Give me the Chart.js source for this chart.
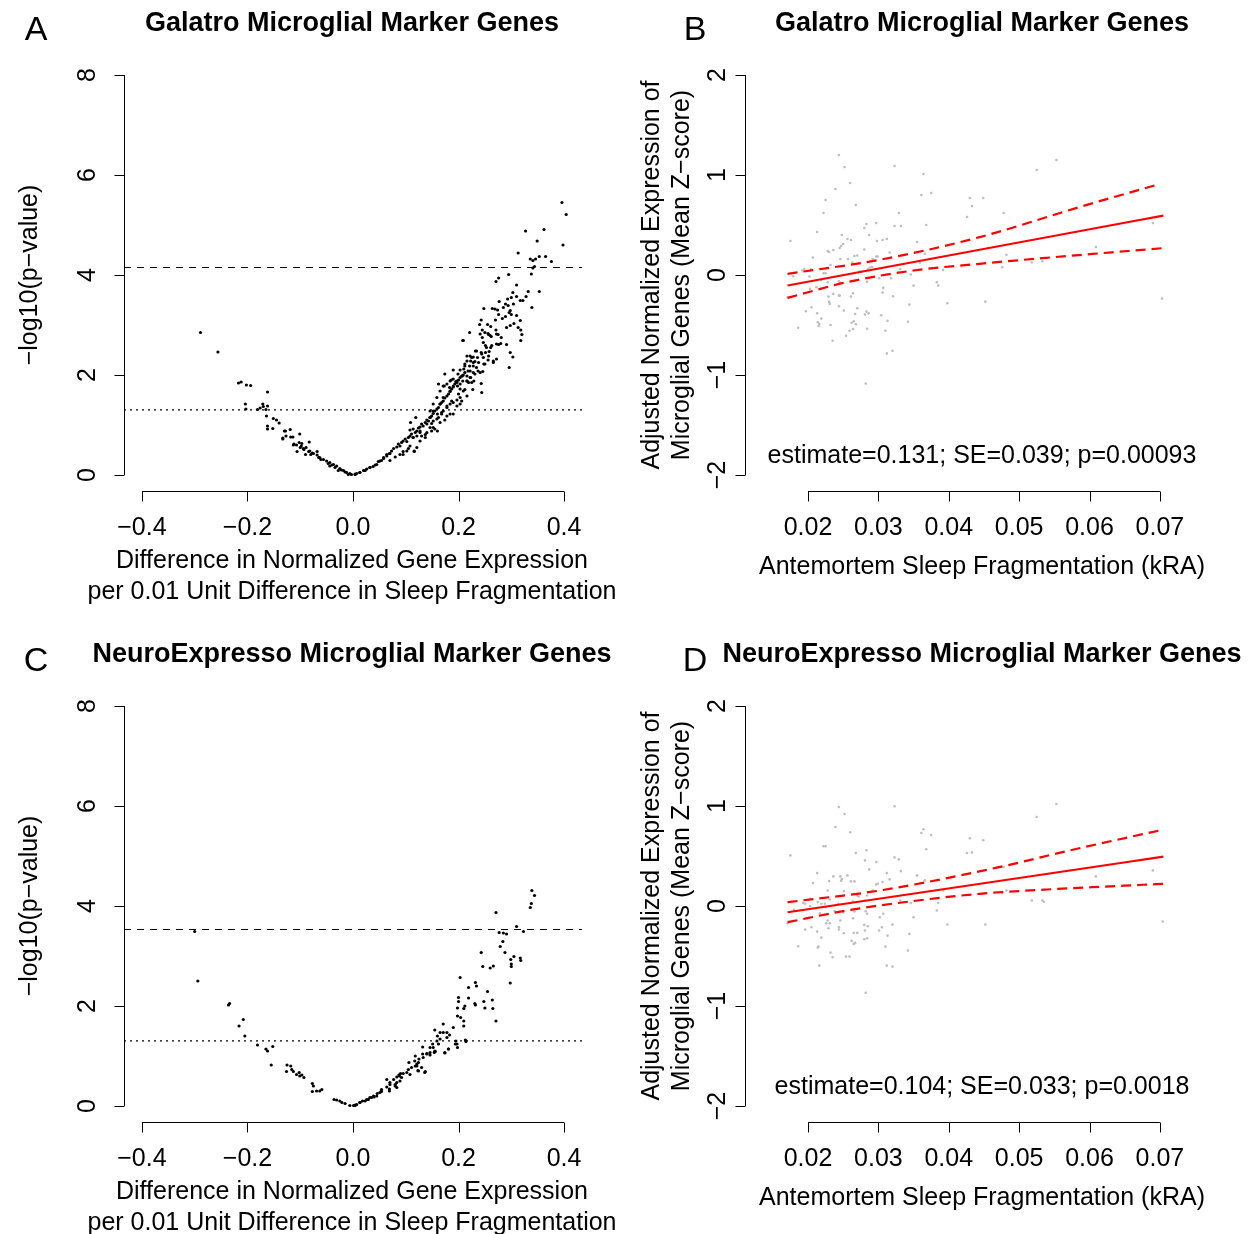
<!DOCTYPE html>
<html>
<head>
<meta charset="utf-8">
<script src="https://cdn.jsdelivr.net/npm/chart.js@4.4.0/dist/chart.umd.min.js"></script>
<style>
  body { margin: 0; background: #fff; }
  #wrap { position: relative; width: 1255px; height: 1234px; font-family: "Liberation Sans", Arial, sans-serif; color: #000; }
  #wrap canvas { position: absolute; left: 0; top: 0; }
  .t { position: absolute; transform: translate(-50%, -50%); white-space: nowrap; line-height: 1; }
  .v { position: absolute; transform: translate(-50%, -50%) rotate(-90deg); white-space: nowrap; line-height: 1; }
  .main { font-weight: bold; font-size: 27px; }
  .lab { font-size: 25px; }
  .letter { font-size: 34px; }
</style>
</head>
<body>
<div id="wrap">
  <canvas id="chartA" width="1255" height="1234"></canvas>
  <canvas id="chartB" width="1255" height="1234"></canvas>
  <canvas id="chartC" width="1255" height="1234"></canvas>
  <canvas id="chartD" width="1255" height="1234"></canvas>

  <div class="t letter" style="left:36px;top:28px">A</div>
  <div class="t letter" style="left:695px;top:28px">B</div>
  <div class="t letter" style="left:36px;top:659px">C</div>
  <div class="t letter" style="left:695px;top:659px">D</div>

  <div class="t main" style="left:352px;top:22px">Galatro Microglial Marker Genes</div>
  <div class="t main" style="left:982px;top:22px">Galatro Microglial Marker Genes</div>
  <div class="t main" style="left:352px;top:653px">NeuroExpresso Microglial Marker Genes</div>
  <div class="t main" style="left:982px;top:653px">NeuroExpresso Microglial Marker Genes</div>

  <div class="v lab" style="left:28px;top:275px">&minus;log10(p&minus;value)</div>
  <div class="v lab" style="left:28px;top:906px">&minus;log10(p&minus;value)</div>
  <div class="v lab" style="left:650px;top:275px">Adjusted Normalized Expression of</div>
  <div class="v lab" style="left:680px;top:275px">Microglial Genes (Mean Z&minus;score)</div>
  <div class="v lab" style="left:650px;top:906px">Adjusted Normalized Expression of</div>
  <div class="v lab" style="left:680px;top:906px">Microglial Genes (Mean Z&minus;score)</div>

  <div class="t lab" style="left:352px;top:559px">Difference in Normalized Gene Expression</div>
  <div class="t lab" style="left:352px;top:590px">per 0.01 Unit Difference in Sleep Fragmentation</div>
  <div class="t lab" style="left:352px;top:1190px">Difference in Normalized Gene Expression</div>
  <div class="t lab" style="left:352px;top:1221px">per 0.01 Unit Difference in Sleep Fragmentation</div>
  <div class="t lab" style="left:982px;top:565px">Antemortem Sleep Fragmentation (kRA)</div>
  <div class="t lab" style="left:982px;top:1196px">Antemortem Sleep Fragmentation (kRA)</div>

  <div class="t lab" id="noteB" style="left:982px;top:454px"></div>
  <div class="t lab" id="noteD" style="left:982px;top:1085px"></div>
</div>

<script>
// ---- volcano data: [difference per 0.01 kRA, -log10(p)] ----
var galatroVolcano = [
  [-0.289,2.85],[-0.256,2.46],[-0.217,1.84],[-0.212,1.86],[-0.202,1.80],[-0.194,1.79],[-0.162,1.66],[-0.204,1.42],
  [-0.203,1.32],[-0.171,1.42],[-0.170,1.37],[-0.162,1.38],[-0.176,1.34],[-0.181,1.31],[-0.165,1.31],[-0.164,1.18],
  [-0.151,1.13],[-0.145,1.10],[-0.140,1.04],[-0.162,0.98],[-0.162,0.92],[-0.152,0.93],[-0.128,0.88],[-0.119,0.91],
  [-0.101,0.82],[-0.118,0.76],[-0.133,0.72],[-0.113,0.60],[-0.107,0.60],[-0.097,0.63],[-0.083,0.66],[-0.100,0.55],
  [-0.093,0.51],[-0.106,0.47],[-0.090,0.41],[-0.082,0.48],[-0.077,0.44],[-0.068,0.47],[-0.068,0.40],[-0.063,0.35],
  [-0.056,0.31],[-0.050,0.28],[-0.044,0.25],[-0.037,0.21],[-0.031,0.18],[-0.025,0.13],[-0.018,0.09],[-0.012,0.05],
  [-0.003,0.01],[-0.133,0.74],[-0.130,0.88],[-0.127,0.78],[-0.114,0.76],[-0.102,0.65],[-0.112,0.62],[-0.098,0.58],
  [-0.094,0.53],[-0.089,0.55],[-0.084,0.47],[-0.080,0.41],[-0.075,0.43],[-0.065,0.35],[-0.061,0.31],[-0.047,0.23],
  [-0.044,0.18],[-0.040,0.20],[-0.034,0.15],[-0.028,0.09],[-0.022,0.10],[-0.015,0.06],[-0.009,0.01],[-0.006,0.03],
  [0.004,0.01],[0.007,0.03],[0.013,0.05],[0.020,0.09],[0.026,0.12],[0.032,0.15],[0.038,0.17],[0.045,0.21],
  [0.051,0.28],[0.058,0.35],[0.064,0.41],[0.070,0.43],
  [0.004,0.02],[0.013,0.05],[0.023,0.09],[0.032,0.15],[0.042,0.20],[0.048,0.27],[0.054,0.29],[0.058,0.33],
  [0.064,0.38],[0.069,0.43],[0.073,0.48],[0.077,0.53],[0.083,0.56],[0.086,0.62],[0.089,0.58],[0.092,0.65],
  [0.095,0.68],[0.099,0.72],[0.102,0.67],[0.105,0.75],[0.108,0.78],[0.111,0.82],[0.114,0.75],[0.118,0.85],
  [0.121,0.88],[0.124,0.94],[0.127,0.96],[0.130,1.02],[0.133,0.98],[0.137,1.05],[0.140,1.10],[0.143,1.08],
  [0.146,1.15],[0.149,1.18],[0.152,1.23],[0.155,1.28],[0.159,1.32],[0.162,1.35],[0.165,1.42],[0.168,1.45],
  [0.171,1.48],[0.174,1.54],[0.178,1.58],[0.181,1.62],[0.184,1.67],[0.187,1.72],[0.190,1.76],[0.193,1.82],
  [0.197,1.85],[0.200,1.90],[0.203,1.95],[0.209,2.00],[0.212,2.05],
  [0.070,0.29],[0.080,0.36],[0.089,0.41],[0.095,0.47],[0.105,0.53],[0.108,0.90],[0.114,0.92],[0.121,0.78],
  [0.127,0.85],[0.130,0.78],[0.137,0.75],[0.140,0.85],[0.146,0.95],[0.149,1.03],[0.152,1.08],[0.155,0.92],
  [0.160,0.88],[0.162,1.15],[0.168,1.22],[0.171,1.28],[0.178,1.35],[0.184,1.42],[0.190,1.45],[0.197,1.50],
  [0.203,1.55],[0.203,1.42],[0.184,1.22],[0.174,1.10],[0.165,1.05],[0.160,1.22],[0.146,1.28],[0.152,1.42],
  [0.159,1.55],[0.165,1.68],[0.171,1.78],[0.178,1.82],[0.184,1.88],[0.190,1.92],[0.203,1.82],[0.209,1.68],
  [0.216,1.88],[0.222,1.95],[0.231,2.02],[0.116,0.48],[0.109,1.05],[0.119,1.15],
  [0.221,2.85],[0.241,2.82],[0.250,2.85],[0.260,2.79],[0.272,2.82],[0.209,2.69],[0.247,2.65],[0.253,2.55],
  [0.263,2.59],[0.272,2.62],[0.234,2.48],[0.244,2.42],[0.257,2.38],[0.225,2.35],[0.216,2.28],[0.228,2.25],
  [0.250,2.22],[0.266,2.25],[0.234,2.15],[0.222,2.08],[0.212,2.18],[0.241,2.05],[0.206,1.98],[0.197,1.88],
  [0.216,1.88],[0.225,1.85],[0.244,1.65],[0.174,2.02],[0.190,1.78],[0.203,1.72],[0.184,1.68],[0.200,1.62],
  [0.216,1.58],[0.171,1.55],[0.187,1.48],[0.206,1.48],[0.165,1.42],[0.178,1.38],[0.197,1.38],[0.152,1.28],
  [0.168,1.25],[0.190,1.22],[0.146,1.15],[0.159,1.12],[0.178,1.18],[0.140,1.02],[0.152,0.95],[0.127,0.88],
  [0.137,0.81],[0.149,0.88],[0.114,0.75],[0.127,0.68],[0.108,0.58],[0.121,0.55],[0.102,0.48],[0.095,0.41],
  [0.116,0.47],
  [0.396,5.45],[0.404,5.21],[0.327,4.88],[0.362,4.91],[0.349,4.68],[0.398,4.60],[0.313,4.44],[0.336,4.32],
  [0.341,4.29],[0.346,4.32],[0.353,4.37],[0.365,4.37],[0.376,4.27],[0.344,4.17],[0.341,4.14],[0.295,4.01],
  [0.276,3.94],[0.271,3.87],[0.338,4.02],[0.310,3.80],[0.332,3.67],[0.353,3.67],[0.303,3.65],[0.310,3.57],
  [0.328,3.57],[0.300,3.55],[0.293,3.52],[0.322,3.49],[0.317,3.49],[0.277,3.47],[0.304,3.42],[0.289,3.42],
  [0.285,3.35],[0.294,3.39],[0.339,3.35],[0.248,3.33],[0.264,3.33],[0.269,3.32],[0.274,3.30],[0.298,3.29],
  [0.296,3.25],[0.300,3.21],[0.310,3.19],[0.289,3.17],[0.276,3.21],[0.283,3.13],[0.270,3.10],[0.243,3.10],
  [0.240,3.01],[0.255,3.01],[0.317,3.09],[0.305,3.03],[0.261,2.97],[0.271,2.90],[0.291,2.95],[0.313,2.95],
  [0.318,2.90],[0.298,2.99],[0.245,2.90],[0.256,2.83],[0.245,2.75],[0.257,2.81],[0.262,2.77],[0.275,2.81],
  [0.281,2.75],[0.320,2.81],[0.208,2.69],[0.318,2.69],[0.276,2.61],[0.280,2.63],[0.291,2.61],[0.251,2.59],
  [0.261,2.55],[0.298,2.45],[0.303,2.36],[0.232,2.48],[0.243,2.45],[0.251,2.45],[0.258,2.47],[0.216,2.38],
  [0.222,2.38],[0.228,2.36],[0.236,2.35],[0.247,2.35],[0.256,2.30],[0.266,2.28],[0.272,2.32],[0.223,2.28],
  [0.231,2.27],[0.238,2.25],[0.212,2.22],[0.221,2.18],[0.228,2.18],[0.248,2.22],[0.190,2.10],[0.203,2.10],
  [0.210,2.12],[0.218,2.08],[0.228,2.05],[0.237,2.08],[0.246,2.07],[0.296,2.15],[0.199,2.02],[0.207,1.98],
  [0.216,1.98],[0.223,1.95],[0.186,1.90],[0.195,1.87],[0.208,1.88],[0.219,1.85],[0.229,1.88],[0.243,1.83],
  [0.162,1.82],[0.173,1.78],[0.183,1.75],[0.198,1.78],[0.212,1.71],[0.227,1.71]
];

var neuroVolcano = [
  [-0.300,3.49],[-0.294,2.50],[-0.236,2.02],[-0.234,2.05],[-0.208,1.73],[-0.216,1.60],[-0.205,1.40],[-0.181,1.22],
  [-0.165,1.14],[-0.162,1.10],[-0.152,1.19],[-0.155,0.82],[-0.125,0.82],[-0.118,0.80],[-0.126,0.69],[-0.116,0.73],
  [-0.113,0.69],[-0.107,0.63],[-0.102,0.67],[-0.097,0.62],[-0.093,0.57],[-0.101,0.60],[-0.077,0.45],[-0.075,0.40],
  [-0.077,0.29],[-0.069,0.30],[-0.063,0.30],[-0.059,0.33],[-0.036,0.13],[-0.031,0.12],[-0.025,0.10],[-0.021,0.07],
  [-0.015,0.05],[-0.006,0.01],[0.001,0.01],[0.007,0.03],
  [0.339,4.31],[0.344,4.21],[0.338,4.05],[0.336,3.97],[0.271,3.87],[0.310,3.59],[0.323,3.49],[0.277,3.47],
  [0.285,3.46],[0.291,3.44],[0.284,3.29],[0.279,3.19],[0.288,3.07],[0.243,3.07],[0.305,2.99],[0.299,2.93],
  [0.300,2.84],[0.300,2.79],[0.317,2.96],[0.318,2.91],[0.246,2.79],[0.260,2.76],[0.266,2.80],[0.203,2.57],
  [0.298,2.46],[0.232,2.47],[0.234,2.40],[0.219,2.37],[0.255,2.29],[0.200,2.17],[0.200,2.09],[0.219,2.16],
  [0.212,2.00],[0.210,1.95],[0.198,1.96],[0.198,1.80],[0.204,1.77],[0.210,1.70],[0.210,1.60],[0.231,2.05],
  [0.232,2.02],[0.248,2.09],[0.250,1.96],[0.264,2.12],[0.265,1.95],[0.271,1.70],[0.171,1.64],[0.190,1.57],
  [0.178,1.47],[0.171,1.47],[0.165,1.47],[0.160,1.40],[0.155,1.52],[0.183,1.42],[0.178,1.37],[0.195,1.30],
  [0.194,1.24],[0.213,1.32],[0.214,1.29],[0.198,1.17],[0.181,1.14],[0.174,1.06],[0.165,1.34],[0.159,1.30],
  [0.151,1.24],[0.146,1.17],[0.132,1.18],[0.132,1.04],[0.140,1.05],[0.146,1.02],[0.154,1.07],[0.156,1.09],
  [0.118,1.00],[0.125,0.94],[0.117,0.90],[0.106,0.87],[0.121,0.80],[0.123,0.71],[0.137,0.69],[0.090,0.65],
  [0.087,0.62],[0.083,0.58],[0.077,0.53],[0.064,0.53],[0.070,0.47],[0.080,0.43],[0.083,0.37],[0.069,0.34],
  [0.054,0.33],[0.054,0.29],[0.046,0.25],[0.039,0.20],[0.032,0.17],[0.026,0.13],[0.018,0.10],[0.013,0.07],
  [0.004,0.01],[0.004,0.02],[0.013,0.07],[0.023,0.10],[0.029,0.13],[0.035,0.17],[0.040,0.18],[0.045,0.20],
  [0.051,0.27],[0.054,0.31],[0.064,0.38],[0.070,0.43],[0.069,0.30],[0.080,0.40],[0.083,0.47],[0.089,0.50],
  [0.092,0.57],[0.088,0.60],[0.095,0.65],[0.102,0.67],[0.105,0.73],[0.111,0.77],[0.108,0.63],[0.118,0.80],
  [0.121,0.84],[0.124,0.87],[0.124,0.70],[0.130,0.77],[0.136,0.67],[0.133,0.97],[0.140,1.04],[0.146,1.07],
  [0.155,1.10],[0.152,1.17],[0.162,1.24],[0.174,1.07],[0.181,1.14],[0.197,1.24]
];

// -log10(0.05) and the Bonferroni cut-offs for each marker set
var nominalCut = 1.301;
var galatroBonf = 4.15;
var neuroBonf = 3.53;

// ---- per-subject scatter: [sleep fragmentation kRA, mean z-score] ----
var galatroSubjects = [
  [0.0244,1.20],[0.0252,1.08],[0.0323,1.09],[0.0364,1.01],[0.0553,1.15],[0.0525,1.05],[0.0260,0.92],[0.0239,0.86],
  [0.0361,0.80],[0.0375,0.82],[0.0225,0.75],[0.0268,0.70],[0.0222,0.62],[0.0329,0.62],[0.0430,0.77],[0.0449,0.77],
  [0.0433,0.69],[0.0426,0.58],[0.0478,0.62],[0.0283,0.51],[0.0297,0.52],[0.0280,0.47],[0.0323,0.49],[0.0332,0.49],
  [0.0368,0.50],[0.0213,0.43],[0.0287,0.40],[0.0248,0.40],[0.0256,0.36],[0.0261,0.35],[0.0298,0.34],[0.0306,0.35],
  [0.0312,0.36],[0.0175,0.34],[0.0250,0.31],[0.0247,0.29],[0.0245,0.27],[0.0355,0.33],[0.0236,0.25],[0.0230,0.23],
  [0.0228,0.24],[0.0280,0.255],[0.0316,0.225],[0.0270,0.195],[0.0266,0.19],[0.0207,0.175],[0.0246,0.16],[0.0257,0.16],
  [0.0297,0.185],[0.0299,0.185],[0.0292,0.16],[0.0263,0.125],[0.0232,0.10],[0.0291,0.08],[0.0195,0.06],[0.0192,0.045],
  [0.0204,0.058],[0.0179,-0.012],[0.0202,-0.015],[0.0222,0.018],[0.0225,0.018],[0.0219,-0.049],[0.0228,-0.072],[0.0244,-0.062],
  [0.0246,-0.079],[0.0273,0.035],[0.0276,0.035],[0.0285,0.06],[0.0288,0.075],[0.0331,0.06],[0.0346,0.005],[0.0318,-0.032],
  [0.0301,-0.032],[0.0359,0.122],[0.0366,0.212],[0.0392,0.051],[0.0482,0.202],[0.0476,0.078],[0.0518,0.125],[0.0533,0.138],
  [0.0609,0.28],[0.0690,0.52],[0.0703,-0.236],[0.0383,-0.072],[0.0385,-0.106],[0.0350,-0.106],[0.0307,-0.129],[0.0306,-0.176],
  [0.0284,-0.069],[0.0266,-0.062],[0.0203,-0.139],[0.0212,-0.122],[0.0236,-0.189],[0.0244,-0.206],[0.0245,-0.206],[0.0229,-0.216],
  [0.0264,-0.183],[0.0261,-0.216],[0.0321,-0.213],[0.0398,-0.283],[0.0452,-0.266],[0.0344,-0.296],[0.0230,-0.269],[0.0231,-0.289],
  [0.0244,-0.313],[0.0205,-0.323],[0.0197,-0.363],[0.0213,-0.383],[0.0251,-0.356],[0.0270,-0.333],[0.0283,-0.366],[0.0286,-0.383],
  [0.0267,-0.390],[0.0281,-0.396],[0.0304,-0.403],[0.0219,-0.436],[0.0214,-0.473],[0.0216,-0.490],[0.0215,-0.510],[0.0262,-0.477],
  [0.0265,-0.463],[0.0268,-0.493],[0.0232,-0.500],[0.0186,-0.527],[0.0264,-0.540],[0.0259,-0.557],[0.0284,-0.537],[0.0313,-0.457],
  [0.0342,-0.467],[0.0310,-0.557],[0.0254,-0.607],[0.0235,-0.657],[0.0312,-0.784],[0.0320,-0.757],[0.0282,-1.085],[0.0171,-0.223]
];

var neuroSubjects = [
  [0.0244,0.99],[0.0323,0.998],[0.0252,0.92],[0.0553,1.02],[0.0525,0.89],[0.0239,0.79],[0.0260,0.737],[0.0364,0.767],
  [0.0361,0.730],[0.0375,0.710],[0.0430,0.677],[0.0449,0.657],[0.0222,0.597],[0.0225,0.597],[0.0368,0.567],[0.0268,0.530],
  [0.0283,0.557],[0.0426,0.530],[0.0433,0.536],[0.0175,0.506],[0.0323,0.486],[0.0329,0.466],[0.0281,0.456],[0.0297,0.440],
  [0.0287,0.366],[0.0213,0.329],[0.0312,0.329],[0.0332,0.349],[0.0355,0.306],[0.0236,0.296],[0.0246,0.296],[0.0256,0.306],
  [0.0248,0.269],[0.0247,0.252],[0.0316,0.266],[0.0366,0.256],[0.0261,0.246],[0.0266,0.246],[0.0207,0.229],[0.0230,0.249],
  [0.0297,0.216],[0.0299,0.222],[0.0292,0.155],[0.0251,0.149],[0.0228,0.155],[0.0306,0.239],[0.0478,0.389],[0.0609,0.296],
  [0.0690,0.356],[0.0392,0.155],[0.0482,0.155],[0.0272,0.095],[0.0270,0.105],[0.0284,0.105],[0.0203,0.072],[0.0231,0.065],
  [0.0214,0.039],[0.0219,0.022],[0.0224,0.022],[0.0243,0.022],[0.0193,0.032],[0.0196,0.022],[0.0180,-0.038],[0.0203,-0.002],
  [0.0264,0.045],[0.0281,0.055],[0.0217,-0.072],[0.0238,-0.052],[0.0250,-0.062],[0.0266,-0.055],[0.0282,-0.052],[0.0284,-0.078],
  [0.0225,-0.012],[0.0383,-0.045],[0.0385,0.032],[0.0346,0.029],[0.0518,0.055],[0.0533,0.055],[0.0535,0.042],[0.0476,0.129],
  [0.0331,0.055],[0.0302,-0.112],[0.0307,-0.078],[0.0264,-0.122],[0.0350,-0.112],[0.0228,-0.145],[0.0231,-0.172],[0.0226,-0.172],
  [0.0246,-0.145],[0.0280,-0.189],[0.0285,-0.202],[0.0171,-0.172],[0.0704,-0.155],[0.0398,-0.185],[0.0452,-0.185],[0.0196,-0.235],
  [0.0205,-0.212],[0.0229,-0.222],[0.0244,-0.212],[0.0244,-0.235],[0.0251,-0.272],[0.0213,-0.256],[0.0270,-0.269],[0.0265,-0.269],
  [0.0281,-0.245],[0.0284,-0.322],[0.0280,-0.332],[0.0305,-0.212],[0.0301,-0.245],[0.0320,-0.185],[0.0344,-0.279],[0.0313,-0.296],
  [0.0219,-0.316],[0.0262,-0.349],[0.0267,-0.369],[0.0265,-0.379],[0.0215,-0.406],[0.0214,-0.416],[0.0186,-0.403],[0.0310,-0.406],
  [0.0232,-0.466],[0.0342,-0.446],[0.0235,-0.513],[0.0254,-0.506],[0.0259,-0.506],[0.0216,-0.596],[0.0312,-0.596],[0.0320,-0.606],
  [0.0282,-0.867]
];

// regression summaries (estimate is per 0.01 kRA)
var galatroFit = { intercept: -0.329, estimate: 0.131, se: "0.039", p: "0.00093" };
var neuroFit = { intercept: -0.240, estimate: 0.104, se: "0.033", p: "0.0018" };
var fitRangeX = [0.0171, 0.0705];

// 95% confidence band edges
var galatroUpperX = [0.0171, 0.0302, 0.0444, 0.0586, 0.0698];
var galatroUpperY = [0.012, 0.152, 0.379, 0.680, 0.907];
var galatroLowerX = [0.0171, 0.0255, 0.0350, 0.0444, 0.0539, 0.0705];
var galatroLowerY = [-0.229, -0.072, 0.045, 0.112, 0.172, 0.269];
var neuroUpperX = [0.0171, 0.0302, 0.0468, 0.0572, 0.0705];
var neuroUpperY = [0.038, 0.155, 0.383, 0.556, 0.764];
var neuroLowerX = [0.0171, 0.0255, 0.0350, 0.0444, 0.0539, 0.0705];
var neuroLowerY = [-0.162, -0.045, 0.050, 0.122, 0.165, 0.222];

// axis ticks
var volcanoXTicks = [-0.4, -0.2, 0.0, 0.2, 0.4];
var volcanoYTicks = [0, 2, 4, 6, 8];
var fragXTicks = [0.02, 0.03, 0.04, 0.05, 0.06, 0.07];
var zYTicks = [-2, -1, 0, 1, 2];

// plot regions (user coordinates incl. R's 4% padding)
var volcanoXLim = [-0.434, 0.434];
var volcanoYLim = [-0.32, 8.32];
var fragXLim = [0.01105, 0.0784];
var zYLim = [-2.16, 2.16];

function fmt(v, digits) {
  var s = Math.abs(v).toFixed(digits);
  return (v < 0 ? "\u2212" : "") + s;
}

function toXY(pairs) {
  return pairs.map(function (p) { return { x: p[0], y: p[1] }; });
}

function zip(xs, ys) {
  return xs.map(function (x, i) { return { x: x, y: ys[i] }; });
}

function fitLine(fit) {
  return fitRangeX.map(function (x) { return { x: x, y: fit.intercept + fit.estimate * x * 100 }; });
}

// base-graphics style axes: line only between first and last tick, outward ticks
var rAxes = {
  id: "rAxes",
  afterDraw: function (chart) {
    var o = chart.options.plugins.rAxes;
    var ctx = chart.ctx;
    var xs = chart.scales.x, ys = chart.scales.y;
    var area = chart.chartArea;
    var bottom = Math.round(area.bottom) + 0.5;
    var left = Math.round(area.left) + 0.5;
    ctx.save();
    ctx.strokeStyle = "#000";
    ctx.fillStyle = "#000";
    ctx.lineWidth = 1;
    ctx.font = '25px "Liberation Sans", Arial, sans-serif';

    var x0 = xs.getPixelForValue(o.xTicks[0]);
    var x1 = xs.getPixelForValue(o.xTicks[o.xTicks.length - 1]);
    ctx.beginPath();
    ctx.moveTo(x0, bottom);
    ctx.lineTo(x1, bottom);
    o.xTicks.forEach(function (t) {
      var px = Math.round(xs.getPixelForValue(t)) + 0.5;
      ctx.moveTo(px, bottom);
      ctx.lineTo(px, bottom + 10);
    });
    ctx.stroke();
    ctx.textAlign = "center";
    ctx.textBaseline = "middle";
    o.xTicks.forEach(function (t) {
      ctx.fillText(fmt(t, o.xDigits), xs.getPixelForValue(t), bottom + 37);
    });

    var y0 = ys.getPixelForValue(o.yTicks[0]);
    var y1 = ys.getPixelForValue(o.yTicks[o.yTicks.length - 1]);
    ctx.beginPath();
    ctx.moveTo(left, y0);
    ctx.lineTo(left, y1);
    o.yTicks.forEach(function (t) {
      var py = Math.round(ys.getPixelForValue(t)) + 0.5;
      ctx.moveTo(left, py);
      ctx.lineTo(left - 10, py);
    });
    ctx.stroke();
    o.yTicks.forEach(function (t) {
      ctx.save();
      ctx.translate(left - o.yGap, ys.getPixelForValue(t));
      ctx.rotate(-Math.PI / 2);
      ctx.fillText(fmt(t, 0), 0, 0);
      ctx.restore();
    });
    ctx.restore();
  }
};

function makeChart(id, box, xLim, yLim, axes, datasets) {
  var ctx = document.getElementById(id).getContext("2d");
  return new Chart(ctx, {
    type: "scatter",
    data: { datasets: datasets },
    options: {
      responsive: false,
      animation: false,
      events: [],
      layout: { padding: { left: box[0], top: box[1], right: 1255 - box[2], bottom: 1234 - box[3] } },
      scales: {
        x: { type: "linear", min: xLim[0], max: xLim[1], display: false },
        y: { type: "linear", min: yLim[0], max: yLim[1], display: false }
      },
      plugins: { legend: { display: false }, tooltip: { enabled: false }, rAxes: axes }
    },
    plugins: [rAxes]
  });
}

function hline(y, dash) {
  return {
    type: "line",
    data: [{ x: volcanoXLim[0], y: y }, { x: volcanoXLim[1], y: y }],
    borderColor: "#000",
    borderWidth: 1.2,
    borderDash: dash,
    pointRadius: 0,
    order: 1
  };
}

function volcanoSets(points, bonf) {
  return [
    hline(bonf, [7, 6]),
    hline(nominalCut, [2, 4]),
    {
      data: toXY(points),
      backgroundColor: "#000",
      pointRadius: 1.6,
      pointBorderWidth: 0,
      order: 2
    }
  ];
}

function redLine(data, dash) {
  return {
    type: "line",
    data: data,
    borderColor: "#ff0000",
    borderWidth: 2.2,
    borderDash: dash,
    pointRadius: 0,
    cubicInterpolationMode: "monotone",
    order: 1
  };
}

function scatterSets(points, fit, ux, uy, lx, ly) {
  return [
    redLine(fitLine(fit), []),
    redLine(zip(ux, uy), [10, 6]),
    redLine(zip(lx, ly), [10, 6]),
    {
      data: toXY(points),
      backgroundColor: "#bebebe",
      pointRadius: 1.3,
      pointBorderWidth: 0,
      order: 2
    }
  ];
}

var volcanoAxes = { xTicks: volcanoXTicks, yTicks: volcanoYTicks, xDigits: 1, yGap: 36 };
var fragAxes = { xTicks: fragXTicks, yTicks: zYTicks, xDigits: 2, yGap: 27 };

makeChart("chartA", [124, 59, 582, 491], volcanoXLim, volcanoYLim, volcanoAxes,
  volcanoSets(galatroVolcano, galatroBonf));
makeChart("chartB", [745, 59, 1219, 491], fragXLim, zYLim, fragAxes,
  scatterSets(galatroSubjects, galatroFit, galatroUpperX, galatroUpperY, galatroLowerX, galatroLowerY));
makeChart("chartC", [124, 690, 582, 1122], volcanoXLim, volcanoYLim, volcanoAxes,
  volcanoSets(neuroVolcano, neuroBonf));
makeChart("chartD", [745, 690, 1219, 1122], fragXLim, zYLim, fragAxes,
  scatterSets(neuroSubjects, neuroFit, neuroUpperX, neuroUpperY, neuroLowerX, neuroLowerY));

function note(fit) {
  return "estimate=" + fit.estimate.toFixed(3) + "; SE=" + fit.se + "; p=" + fit.p;
}
document.getElementById("noteB").textContent = note(galatroFit);
document.getElementById("noteD").textContent = note(neuroFit);
</script>
</body>
</html>
